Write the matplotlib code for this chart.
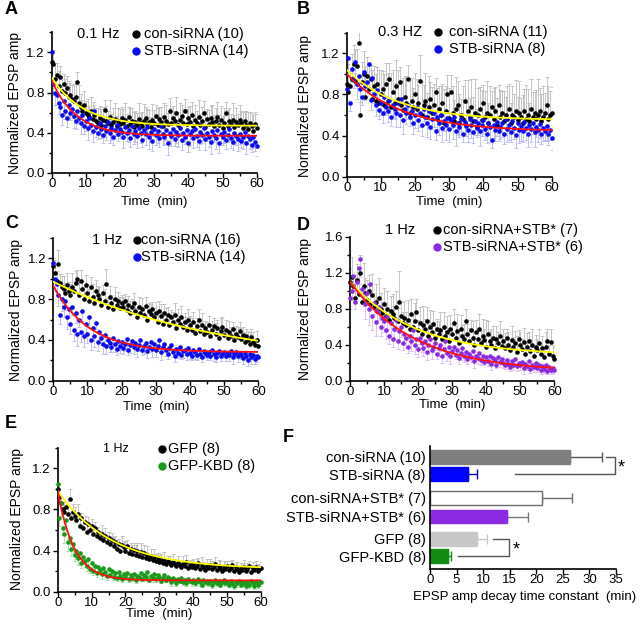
import numpy as np
import matplotlib
matplotlib.use('Agg')
from matplotlib import pyplot as plt
from matplotlib.lines import Line2D
from matplotlib.ticker import MultipleLocator, AutoMinorLocator

plt.rcParams['font.family'] = ['Liberation Sans', 'DejaVu Sans']

W, H = 640, 625

# ---- data: normalized EPSP amp, one value every 0.5 min (0..60) ----
A_con = [1.10, 1.08, 0.93, 0.97, 0.86, 0.95, 0.82, 0.88, 0.80, 0.84,
         0.76, 0.78, 0.74, 0.72, 0.76, 0.90, 0.70, 0.66, 0.62, 0.68,
         0.60, 0.58, 0.56, 0.62, 0.54, 0.58, 0.52, 0.50, 0.55, 0.48,
         0.53, 0.63, 0.52, 0.50, 0.56, 0.48, 0.51, 0.54, 0.47, 0.52,
         0.49, 0.55, 0.50, 0.53, 0.47, 0.56, 0.49, 0.52, 0.46, 0.51,
         0.48, 0.54, 0.50, 0.47, 0.52, 0.55, 0.49, 0.51, 0.46, 0.53,
         0.50, 0.57, 0.48, 0.54, 0.51, 0.47, 0.56, 0.52, 0.49, 0.62,
         0.50, 0.55, 0.52, 0.60, 0.48, 0.53, 0.57, 0.50, 0.62, 0.49,
         0.55, 0.51, 0.58, 0.47, 0.53, 0.50, 0.56, 0.48, 0.52, 0.60,
         0.46, 0.54, 0.49, 0.55, 0.51, 0.47, 0.52, 0.56, 0.48, 0.53,
         0.45, 0.50, 0.60, 0.47, 0.52, 0.49, 0.53, 0.46, 0.51, 0.48,
         0.53, 0.50, 0.45, 0.52, 0.48, 0.44, 0.50, 0.47, 0.42, 0.49,
         0.45]
A_con_err = [0.10, 0.14, 0.16, 0.12, 0.15, 0.11, 0.14, 0.10, 0.13, 0.12,
             0.15, 0.11, 0.13, 0.16, 0.12, 0.10, 0.17, 0.13, 0.11, 0.14,
             0.12, 0.16, 0.11, 0.14, 0.17, 0.10, 0.13, 0.15, 0.12, 0.16,
             0.13, 0.10, 0.15, 0.12, 0.17, 0.11, 0.14, 0.16, 0.10, 0.13,
             0.15, 0.11, 0.14, 0.17, 0.12, 0.10, 0.16, 0.13, 0.15, 0.11,
             0.12, 0.16, 0.10, 0.14, 0.17, 0.11, 0.15, 0.12, 0.10, 0.16,
             0.13, 0.11, 0.17, 0.12, 0.15, 0.10, 0.14, 0.16, 0.11, 0.13,
             0.15, 0.12, 0.10, 0.16, 0.13, 0.17, 0.11, 0.14, 0.12, 0.15,
             0.11, 0.16, 0.13, 0.10, 0.15, 0.12, 0.17, 0.11, 0.14, 0.12,
             0.16, 0.10, 0.14, 0.12, 0.17, 0.11, 0.13, 0.15, 0.10, 0.14,
             0.12, 0.15, 0.11, 0.16, 0.13, 0.10, 0.17, 0.12, 0.14, 0.11,
             0.15, 0.12, 0.16, 0.10, 0.14, 0.17, 0.11, 0.13, 0.16, 0.12,
             0.14]
A_stb = [1.20, 0.88, 0.80, 0.78, 0.70, 0.66, 0.58, 0.72, 0.62, 0.55,
         0.68, 0.60, 0.64, 0.57, 0.52, 0.62, 0.55, 0.50, 0.58, 0.47,
         0.52, 0.45, 0.55, 0.48, 0.42, 0.62, 0.46, 0.40, 0.50, 0.44,
         0.38, 0.47, 0.42, 0.51, 0.40, 0.45, 0.36, 0.43, 0.48, 0.39,
         0.44, 0.41, 0.36, 0.46, 0.40, 0.43, 0.35, 0.47, 0.39, 0.42,
         0.37, 0.45, 0.40, 0.33, 0.43, 0.39, 0.46, 0.36, 0.41, 0.32,
         0.44, 0.38, 0.42, 0.35, 0.47, 0.39, 0.36, 0.43, 0.30, 0.40,
         0.37, 0.44, 0.34, 0.41, 0.38, 0.45, 0.33, 0.40, 0.36, 0.43,
         0.30, 0.39, 0.42, 0.35, 0.44, 0.37, 0.32, 0.41, 0.38, 0.45,
         0.34, 0.40, 0.36, 0.31, 0.42, 0.38, 0.35, 0.43, 0.30, 0.39,
         0.36, 0.41, 0.33, 0.38, 0.44, 0.35, 0.31, 0.40, 0.37, 0.34,
         0.39, 0.32, 0.36, 0.41, 0.30, 0.37, 0.34, 0.28, 0.36, 0.31,
         0.27]
A_stb_err = [0.08, 0.10, 0.12, 0.09, 0.11, 0.07, 0.10, 0.12, 0.08, 0.09,
             0.11, 0.07, 0.09, 0.12, 0.08, 0.10, 0.06, 0.11, 0.09, 0.08,
             0.10, 0.12, 0.07, 0.09, 0.11, 0.08, 0.10, 0.06, 0.12, 0.09,
             0.08, 0.11, 0.09, 0.07, 0.10, 0.12, 0.08, 0.09, 0.11, 0.07,
             0.09, 0.07, 0.11, 0.10, 0.08, 0.12, 0.09, 0.07, 0.10, 0.11,
             0.12, 0.08, 0.10, 0.07, 0.09, 0.11, 0.08, 0.12, 0.09, 0.10,
             0.07, 0.10, 0.12, 0.09, 0.08, 0.11, 0.07, 0.10, 0.12, 0.08,
             0.10, 0.09, 0.07, 0.11, 0.12, 0.08, 0.10, 0.09, 0.07, 0.11,
             0.09, 0.12, 0.08, 0.10, 0.07, 0.11, 0.09, 0.12, 0.08, 0.10,
             0.11, 0.08, 0.10, 0.12, 0.09, 0.07, 0.11, 0.08, 0.10, 0.09,
             0.08, 0.11, 0.09, 0.07, 0.12, 0.10, 0.08, 0.11, 0.09, 0.12,
             0.10, 0.07, 0.12, 0.09, 0.11, 0.08, 0.10, 0.07, 0.11, 0.09,
             0.10]

B_con = [0.90, 0.82, 0.88, 0.95, 1.10, 0.93, 1.08, 1.30, 0.60, 0.92,
         1.00, 0.78, 0.98, 0.85, 0.95, 0.76, 0.88, 0.74, 0.90, 0.72,
         0.80, 0.85, 0.70, 0.90, 0.74, 0.95, 0.68, 0.82, 0.72, 0.88,
         0.76, 0.92, 0.70, 0.65, 0.78, 0.72, 0.95, 0.62, 0.74, 0.68,
         0.80, 0.66, 0.72, 0.93, 0.60, 0.70, 0.74, 0.58, 0.68, 0.76,
         0.62, 0.70, 0.82, 0.56, 0.66, 0.60, 0.72, 0.52, 0.64, 0.80,
         0.57, 0.82, 0.62, 0.54, 0.66, 0.70, 0.52, 0.60, 0.56, 0.74,
         0.50, 0.64, 0.58, 0.68, 0.54, 0.62, 0.48, 0.60, 0.66, 0.55,
         0.72, 0.58, 0.62, 0.52, 0.60, 0.68, 0.56, 0.64, 0.50, 0.70,
         0.58, 0.62, 0.54, 0.60, 0.56, 0.66, 0.52, 0.60, 0.58, 0.64,
         0.55, 0.62, 0.58, 0.52, 0.64, 0.56, 0.60, 0.54, 0.66, 0.58,
         0.62, 0.56, 0.60, 0.64, 0.54, 0.58, 0.62, 0.70, 0.56, 0.60,
         0.62]
B_con_err = [0.20, 0.28, 0.15, 0.24, 0.18, 0.30, 0.16, 0.12, 0.26, 0.20,
             0.22, 0.30, 0.18, 0.25, 0.14, 0.28, 0.20, 0.26, 0.17, 0.32,
             0.24, 0.18, 0.30, 0.21, 0.27, 0.16, 0.33, 0.22, 0.19, 0.26,
             0.28, 0.15, 0.24, 0.31, 0.20, 0.26, 0.14, 0.34, 0.22, 0.18,
             0.21, 0.29, 0.17, 0.25, 0.32, 0.19, 0.27, 0.23, 0.30, 0.16,
             0.25, 0.20, 0.14, 0.30, 0.22, 0.28, 0.18, 0.33, 0.24, 0.19,
             0.29, 0.17, 0.26, 0.21, 0.31, 0.23, 0.28, 0.16, 0.32, 0.20,
             0.22, 0.30, 0.19, 0.27, 0.24, 0.33, 0.18, 0.26, 0.21, 0.29,
             0.17, 0.25, 0.31, 0.20, 0.28, 0.15, 0.30, 0.23, 0.27, 0.19,
             0.26, 0.21, 0.29, 0.18, 0.32, 0.24, 0.20, 0.28, 0.22, 0.30,
             0.23, 0.31, 0.19, 0.27, 0.21, 0.33, 0.25, 0.18, 0.29, 0.24,
             0.20, 0.28, 0.35, 0.22, 0.26, 0.30, 0.19, 0.27, 0.32, 0.23,
             0.25]
B_stb = [0.85, 1.15, 0.72, 1.05, 0.95, 1.12, 0.90, 0.98, 0.85, 0.78,
         1.02, 0.88, 0.92, 1.10, 0.75, 0.96, 0.80, 0.70, 0.84, 0.65,
         0.72, 0.62, 0.78, 0.68, 0.64, 0.75, 0.58, 0.70, 0.66, 0.62,
         0.72, 0.60, 0.76, 0.55, 0.66, 0.62, 0.70, 0.58, 0.64, 0.52,
         0.60, 0.68, 0.55, 0.62, 0.50, 0.66, 0.58, 0.52, 0.64, 0.48,
         0.56, 0.62, 0.44, 0.58, 0.52, 0.60, 0.47, 0.54, 0.50, 0.57,
         0.46, 0.55, 0.50, 0.58, 0.44, 0.52, 0.48, 0.56, 0.42, 0.53,
         0.49, 0.45, 0.56, 0.50, 0.43, 0.54, 0.47, 0.52, 0.44, 0.50,
         0.55, 0.46, 0.42, 0.52, 0.48, 0.36, 0.50, 0.45, 0.53, 0.44,
         0.48, 0.52, 0.42, 0.56, 0.46, 0.50, 0.43, 0.54, 0.47, 0.41,
         0.52, 0.45, 0.49, 0.44, 0.53, 0.47, 0.42, 0.50, 0.46, 0.52,
         0.43, 0.48, 0.45, 0.51, 0.42, 0.47, 0.44, 0.49, 0.42, 0.45,
         0.38]
B_stb_err = [0.10, 0.12, 0.08, 0.13, 0.09, 0.11, 0.14, 0.10, 0.12, 0.08,
             0.11, 0.13, 0.09, 0.12, 0.10, 0.14, 0.08, 0.11, 0.13, 0.09,
             0.12, 0.10, 0.14, 0.08, 0.11, 0.13, 0.09, 0.12, 0.10, 0.14,
             0.09, 0.12, 0.10, 0.13, 0.08, 0.11, 0.14, 0.09, 0.12, 0.10,
             0.13, 0.09, 0.11, 0.14, 0.10, 0.12, 0.08, 0.13, 0.09, 0.11,
             0.10, 0.14, 0.08, 0.12, 0.11, 0.09, 0.13, 0.10, 0.14, 0.12,
             0.12, 0.08, 0.13, 0.10, 0.14, 0.11, 0.09, 0.12, 0.08, 0.13,
             0.09, 0.11, 0.14, 0.12, 0.10, 0.13, 0.08, 0.11, 0.14, 0.10,
             0.13, 0.10, 0.09, 0.11, 0.14, 0.08, 0.12, 0.10, 0.13, 0.09,
             0.11, 0.13, 0.10, 0.08, 0.12, 0.14, 0.09, 0.11, 0.10, 0.13,
             0.08, 0.12, 0.14, 0.10, 0.09, 0.11, 0.13, 0.08, 0.12, 0.10,
             0.14, 0.09, 0.11, 0.13, 0.10, 0.12, 0.08, 0.14, 0.11, 0.09,
             0.12]

C_con = [1.12, 1.06, 0.98, 1.14, 0.96, 0.92, 0.90, 0.86, 0.94, 0.88,
         0.84, 0.92, 0.88, 0.96, 1.00, 0.84, 0.98, 0.90, 0.80, 0.94,
         0.86, 0.78, 0.92, 0.82, 0.76, 0.88, 0.84, 0.80, 0.74, 0.86,
         0.78, 0.95, 0.72, 0.82, 0.76, 0.70, 0.80, 0.74, 0.78, 0.71,
         0.76, 0.72, 0.78, 0.69, 0.74, 0.66, 0.72, 0.76, 0.68, 0.62,
         0.72, 0.66, 0.70, 0.64, 0.73, 0.60, 0.68, 0.65, 0.70, 0.62,
         0.66, 0.58, 0.68, 0.63, 0.56, 0.66, 0.60, 0.64, 0.55, 0.62,
         0.58, 0.64, 0.52, 0.60, 0.56, 0.62, 0.53, 0.58, 0.50, 0.60,
         0.55, 0.50, 0.58, 0.47, 0.54, 0.60, 0.49, 0.55, 0.46, 0.52,
         0.48, 0.55, 0.44, 0.50, 0.54, 0.46, 0.52, 0.42, 0.49, 0.53,
         0.45, 0.50, 0.42, 0.48, 0.44, 0.51, 0.40, 0.46, 0.43, 0.49,
         0.41, 0.45, 0.38, 0.44, 0.40, 0.36, 0.43, 0.38, 0.35, 0.40,
         0.34]
C_con_err = [0.08, 0.12, 0.10, 0.14, 0.09, 0.11, 0.13, 0.10, 0.12, 0.09,
             0.11, 0.14, 0.10, 0.12, 0.09, 0.13, 0.11, 0.08, 0.12, 0.10,
             0.09, 0.12, 0.10, 0.13, 0.08, 0.11, 0.09, 0.12, 0.10, 0.08,
             0.12, 0.15, 0.09, 0.11, 0.08, 0.10, 0.12, 0.07, 0.09, 0.11,
             0.08, 0.10, 0.07, 0.11, 0.09, 0.12, 0.08, 0.10, 0.07, 0.09,
             0.10, 0.08, 0.11, 0.07, 0.09, 0.12, 0.08, 0.10, 0.07, 0.09,
             0.11, 0.08, 0.10, 0.12, 0.07, 0.09, 0.11, 0.08, 0.10, 0.07,
             0.09, 0.12, 0.08, 0.10, 0.07, 0.11, 0.09, 0.08, 0.12, 0.10,
             0.08, 0.11, 0.09, 0.12, 0.07, 0.10, 0.08, 0.11, 0.09, 0.07,
             0.10, 0.08, 0.12, 0.09, 0.07, 0.11, 0.08, 0.10, 0.12, 0.09,
             0.07, 0.10, 0.08, 0.11, 0.09, 0.07, 0.12, 0.08, 0.10, 0.09,
             0.11, 0.08, 0.10, 0.07, 0.09, 0.12, 0.08, 0.10, 0.07, 0.09,
             0.08]
C_stb = [1.15, 1.00, 0.95, 0.84, 0.64, 0.80, 0.72, 0.78, 0.62, 0.70,
         0.56, 0.72, 0.50, 0.66, 0.46, 0.60, 0.48, 0.68, 0.44, 0.56,
         0.46, 0.62, 0.40, 0.52, 0.44, 0.57, 0.38, 0.48, 0.42, 0.36,
         0.45, 0.34, 0.40, 0.37, 0.33, 0.42, 0.36, 0.31, 0.39, 0.34,
         0.38, 0.32, 0.36, 0.41, 0.30, 0.35, 0.39, 0.33, 0.37, 0.31,
         0.35, 0.40, 0.30, 0.34, 0.37, 0.29, 0.33, 0.38, 0.31, 0.36,
         0.30, 0.34, 0.40, 0.28, 0.33, 0.36, 0.30, 0.26, 0.32, 0.35,
         0.28, 0.24, 0.31, 0.27, 0.33, 0.25, 0.29, 0.30, 0.26, 0.32,
         0.27, 0.24, 0.30, 0.28, 0.25, 0.31, 0.26, 0.23, 0.29, 0.27,
         0.25, 0.28, 0.24, 0.30, 0.26, 0.23, 0.27, 0.29, 0.24, 0.26,
         0.28, 0.24, 0.27, 0.25, 0.29, 0.23, 0.26, 0.28, 0.24, 0.27,
         0.25, 0.22, 0.27, 0.24, 0.20, 0.26, 0.23, 0.25, 0.21, 0.24,
         0.23]
C_stb_err = [0.10, 0.12, 0.09, 0.11, 0.08, 0.12, 0.10, 0.09, 0.11, 0.08,
             0.10, 0.08, 0.11, 0.09, 0.12, 0.07, 0.10, 0.09, 0.11, 0.08,
             0.09, 0.07, 0.10, 0.08, 0.11, 0.06, 0.09, 0.08, 0.07, 0.10,
             0.06, 0.08, 0.07, 0.09, 0.05, 0.07, 0.08, 0.06, 0.09, 0.07,
             0.08, 0.06, 0.07, 0.09, 0.05, 0.08, 0.06, 0.07, 0.05, 0.08,
             0.06, 0.07, 0.05, 0.08, 0.06, 0.07, 0.05, 0.06, 0.08, 0.05,
             0.07, 0.05, 0.06, 0.08, 0.05, 0.07, 0.06, 0.05, 0.07, 0.06,
             0.05, 0.06, 0.07, 0.05, 0.06, 0.04, 0.07, 0.05, 0.06, 0.05,
             0.06, 0.04, 0.05, 0.07, 0.05, 0.06, 0.04, 0.05, 0.06, 0.05,
             0.05, 0.06, 0.04, 0.05, 0.07, 0.05, 0.04, 0.06, 0.05, 0.04,
             0.06, 0.05, 0.04, 0.06, 0.05, 0.07, 0.04, 0.05, 0.06, 0.05,
             0.04, 0.06, 0.05, 0.04, 0.06, 0.05, 0.07, 0.04, 0.05, 0.06,
             0.05]

D_con = [1.10, 1.15, 1.05, 0.92, 1.12, 0.96, 1.20, 0.88, 1.05, 0.98,
         0.90, 1.00, 0.85, 0.95, 0.82, 0.88, 0.78, 0.92, 0.80, 0.75,
         0.85, 0.72, 0.80, 0.68, 0.78, 0.74, 0.70, 0.82, 0.66, 0.88,
         0.72, 0.64, 0.70, 0.62, 0.68, 0.58, 0.74, 0.60, 0.66, 0.76,
         0.56, 0.64, 0.52, 0.62, 0.58, 0.66, 0.50, 0.60, 0.54, 0.63,
         0.48, 0.58, 0.52, 0.56, 0.46, 0.60, 0.50, 0.54, 0.44, 0.58,
         0.52, 0.64, 0.48, 0.55, 0.42, 0.58, 0.50, 0.46, 0.66, 0.52,
         0.44, 0.56, 0.48, 0.40, 0.54, 0.46, 0.58, 0.42, 0.50, 0.45,
         0.38, 0.52, 0.44, 0.40, 0.48, 0.36, 0.46, 0.42, 0.50, 0.39,
         0.44, 0.36, 0.47, 0.40, 0.34, 0.45, 0.38, 0.42, 0.32, 0.46,
         0.40, 0.35, 0.43, 0.30, 0.38, 0.44, 0.33, 0.40, 0.28, 0.37,
         0.34, 0.42, 0.30, 0.36, 0.26, 0.38, 0.44, 0.30, 0.43, 0.28,
         0.24]
D_con_err = [0.15, 0.22, 0.12, 0.25, 0.18, 0.30, 0.20, 0.14, 0.26, 0.16,
             0.22, 0.18, 0.12, 0.24, 0.16, 0.20, 0.14, 0.22, 0.17, 0.12,
             0.18, 0.14, 0.20, 0.12, 0.16, 0.22, 0.13, 0.18, 0.15, 0.34,
             0.16, 0.12, 0.19, 0.14, 0.22, 0.11, 0.17, 0.13, 0.20, 0.15,
             0.12, 0.18, 0.14, 0.21, 0.11, 0.16, 0.13, 0.19, 0.10, 0.15,
             0.17, 0.11, 0.14, 0.20, 0.12, 0.16, 0.10, 0.18, 0.13, 0.15,
             0.11, 0.16, 0.13, 0.19, 0.10, 0.15, 0.12, 0.17, 0.14, 0.11,
             0.15, 0.12, 0.18, 0.10, 0.14, 0.11, 0.16, 0.13, 0.19, 0.12,
             0.30, 0.14, 0.11, 0.17, 0.13, 0.10, 0.15, 0.12, 0.16, 0.11,
             0.13, 0.17, 0.10, 0.14, 0.12, 0.16, 0.11, 0.13, 0.18, 0.10,
             0.14, 0.11, 0.16, 0.12, 0.15, 0.10, 0.13, 0.17, 0.11, 0.14,
             0.12, 0.15, 0.10, 0.14, 0.11, 0.16, 0.13, 0.10, 0.15, 0.12,
             0.13]
D_stb = [0.92, 1.00, 1.16, 0.88, 1.10, 1.25, 1.35, 1.02, 0.95, 0.85,
         0.98, 0.80, 1.08, 0.72, 0.86, 0.65, 0.78, 0.82, 0.60, 0.70,
         0.66, 0.56, 0.72, 0.50, 0.64, 0.46, 0.58, 0.68, 0.44, 0.55,
         0.60, 0.42, 0.52, 0.48, 0.38, 0.50, 0.44, 0.56, 0.40, 0.46,
         0.35, 0.48, 0.42, 0.36, 0.44, 0.32, 0.40, 0.46, 0.34, 0.38,
         0.42, 0.30, 0.36, 0.40, 0.28, 0.35, 0.44, 0.31, 0.37, 0.27,
         0.33, 0.38, 0.29, 0.34, 0.25, 0.31, 0.36, 0.27, 0.32, 0.24,
         0.30, 0.26, 0.33, 0.22, 0.28, 0.25, 0.31, 0.23, 0.27, 0.21,
         0.26, 0.22, 0.28, 0.19, 0.25, 0.23, 0.18, 0.26, 0.21, 0.24,
         0.20, 0.17, 0.23, 0.19, 0.15, 0.22, 0.18, 0.24, 0.16, 0.20,
         0.17, 0.21, 0.14, 0.19, 0.16, 0.22, 0.13, 0.18, 0.15, 0.20,
         0.14, 0.17, 0.12, 0.16, 0.13, 0.18, 0.11, 0.15, 0.12, 0.14,
         0.12]
D_stb_err = [0.12, 0.10, 0.15, 0.08, 0.12, 0.18, 0.20, 0.14, 0.12, 0.16,
             0.14, 0.18, 0.10, 0.16, 0.12, 0.15, 0.11, 0.14, 0.10, 0.13,
             0.12, 0.10, 0.14, 0.09, 0.12, 0.08, 0.11, 0.13, 0.09, 0.10,
             0.11, 0.08, 0.10, 0.12, 0.07, 0.09, 0.11, 0.08, 0.10, 0.07,
             0.09, 0.07, 0.10, 0.08, 0.06, 0.09, 0.07, 0.08, 0.10, 0.06,
             0.08, 0.06, 0.09, 0.07, 0.08, 0.05, 0.07, 0.09, 0.06, 0.08,
             0.06, 0.08, 0.05, 0.07, 0.06, 0.08, 0.05, 0.06, 0.07, 0.05,
             0.07, 0.05, 0.06, 0.08, 0.05, 0.06, 0.07, 0.05, 0.06, 0.04,
             0.05, 0.06, 0.04, 0.07, 0.05, 0.06, 0.04, 0.05, 0.06, 0.05,
             0.06, 0.04, 0.05, 0.06, 0.04, 0.05, 0.06, 0.04, 0.05, 0.04,
             0.05, 0.04, 0.06, 0.05, 0.04, 0.05, 0.04, 0.06, 0.05, 0.04,
             0.04, 0.05, 0.04, 0.06, 0.04, 0.05, 0.04, 0.05, 0.04, 0.05,
             0.04]

E_con = [1.00, 0.92, 0.86, 0.80, 0.78, 0.82, 0.76, 0.90, 0.72, 0.78,
         0.74, 0.70, 0.76, 0.64, 0.72, 0.62, 0.68, 0.58, 0.66, 0.60,
         0.64, 0.56, 0.62, 0.54, 0.58, 0.52, 0.56, 0.50, 0.54, 0.48,
         0.52, 0.46, 0.50, 0.44, 0.48, 0.42, 0.46, 0.40, 0.45, 0.43,
         0.40, 0.44, 0.38, 0.42, 0.37, 0.41, 0.36, 0.40, 0.35, 0.39,
         0.34, 0.38, 0.33, 0.36, 0.32, 0.35, 0.31, 0.34, 0.30, 0.33,
         0.29, 0.32, 0.28, 0.31, 0.27, 0.30, 0.28, 0.26, 0.29, 0.27,
         0.25, 0.28, 0.26, 0.24, 0.27, 0.25, 0.29, 0.23, 0.26, 0.24,
         0.27, 0.23, 0.25, 0.28, 0.22, 0.26, 0.24, 0.21, 0.25, 0.23,
         0.26, 0.22, 0.24, 0.27, 0.21, 0.25, 0.23, 0.20, 0.24, 0.22,
         0.25, 0.21, 0.23, 0.26, 0.20, 0.24, 0.22, 0.19, 0.23, 0.21,
         0.24, 0.20, 0.22, 0.25, 0.19, 0.23, 0.21, 0.24, 0.20, 0.22,
         0.23]
E_con_err = [0.06, 0.08, 0.05, 0.07, 0.09, 0.06, 0.08, 0.10, 0.06, 0.07,
             0.08, 0.06, 0.09, 0.07, 0.05, 0.08, 0.06, 0.09, 0.07, 0.06,
             0.07, 0.09, 0.06, 0.08, 0.05, 0.07, 0.09, 0.06, 0.08, 0.07,
             0.06, 0.08, 0.07, 0.09, 0.06, 0.08, 0.05, 0.07, 0.09, 0.06,
             0.08, 0.06, 0.07, 0.05, 0.08, 0.06, 0.09, 0.07, 0.06, 0.08,
             0.05, 0.07, 0.06, 0.08, 0.05, 0.07, 0.06, 0.08, 0.07, 0.05,
             0.07, 0.05, 0.06, 0.08, 0.06, 0.05, 0.07, 0.06, 0.08, 0.05,
             0.06, 0.07, 0.05, 0.06, 0.08, 0.05, 0.07, 0.06, 0.05, 0.07,
             0.05, 0.06, 0.07, 0.05, 0.06, 0.08, 0.05, 0.06, 0.07, 0.05,
             0.06, 0.08, 0.05, 0.07, 0.05, 0.06, 0.07, 0.05, 0.06, 0.08,
             0.05, 0.06, 0.07, 0.05, 0.06, 0.05, 0.07, 0.06, 0.05, 0.06,
             0.07, 0.05, 0.06, 0.05, 0.07, 0.06, 0.05, 0.06, 0.07, 0.05,
             0.06]
E_kbd = [1.05, 0.72, 0.86, 0.62, 0.56, 0.70, 0.48, 0.52, 0.42, 0.46,
         0.36, 0.40, 0.33, 0.38, 0.28, 0.34, 0.30, 0.25, 0.32, 0.22,
         0.28, 0.20, 0.25, 0.18, 0.24, 0.21, 0.17, 0.23, 0.19, 0.15,
         0.22, 0.16, 0.20, 0.14, 0.18, 0.13, 0.19, 0.15, 0.12, 0.17,
         0.14, 0.18, 0.12, 0.16, 0.13, 0.17, 0.11, 0.15, 0.14, 0.18,
         0.12, 0.16, 0.14, 0.19, 0.11, 0.15, 0.13, 0.17, 0.12, 0.16,
         0.14, 0.10, 0.13, 0.16, 0.11, 0.14, 0.12, 0.09, 0.13, 0.11,
         0.08, 0.12, 0.10, 0.13, 0.09, 0.11, 0.08, 0.12, 0.10, 0.09,
         0.11, 0.08, 0.10, 0.12, 0.09, 0.07, 0.11, 0.09, 0.10, 0.08,
         0.10, 0.07, 0.09, 0.11, 0.08, 0.10, 0.07, 0.09, 0.11, 0.08,
         0.09, 0.07, 0.10, 0.08, 0.06, 0.09, 0.08, 0.10, 0.07, 0.09,
         0.08, 0.06, 0.09, 0.07, 0.10, 0.08, 0.06, 0.09, 0.07, 0.08,
         0.09]
E_kbd_err = [0.10, 0.08, 0.12, 0.07, 0.09, 0.11, 0.08, 0.10, 0.07, 0.09,
             0.06, 0.08, 0.07, 0.06, 0.05, 0.07, 0.06, 0.05, 0.07, 0.04,
             0.05, 0.04, 0.06, 0.04, 0.05, 0.03, 0.05, 0.04, 0.03, 0.04,
             0.04, 0.03, 0.04, 0.03, 0.04, 0.03, 0.05, 0.03, 0.03, 0.04,
             0.03, 0.04, 0.03, 0.02, 0.03, 0.04, 0.03, 0.02, 0.03, 0.04,
             0.02, 0.03, 0.04, 0.03, 0.02, 0.03, 0.04, 0.02, 0.03, 0.03,
             0.03, 0.02, 0.03, 0.04, 0.02, 0.03, 0.02, 0.03, 0.04, 0.02,
             0.02, 0.03, 0.02, 0.03, 0.02, 0.04, 0.02, 0.03, 0.02, 0.03,
             0.03, 0.02, 0.03, 0.02, 0.03, 0.02, 0.04, 0.02, 0.03, 0.02,
             0.02, 0.03, 0.02, 0.03, 0.02, 0.03, 0.02, 0.02, 0.03, 0.02,
             0.03, 0.02, 0.03, 0.02, 0.03, 0.02, 0.03, 0.02, 0.02, 0.03,
             0.02, 0.03, 0.02, 0.03, 0.02, 0.02, 0.03, 0.02, 0.03, 0.02,
             0.03]

# exponential fits: (plateau, amplitude, tau in min)
A_con_fit = [0.47, 0.48, 9.0]
A_stb_fit = [0.37, 0.55, 7.3]
B_con_fit = [0.55, 0.49, 15.0]
B_stb_fit = [0.44, 0.56, 16.0]
C_con_fit = [0.15, 0.82, 49.0]
C_stb_fit = [0.28, 0.65, 10.5]
D_con_fit = [0.28, 0.82, 19.2]
D_stb_fit = [0.10, 1.00, 19.0]
E_con_fit = [0.22, 0.76, 16.0]
E_stb_fit = [0.11, 0.87, 4.8]

# panel F: decay time constants
F_labels = ['con-siRNA (10)', 'STB-siRNA (8)', 'con-siRNA+STB* (7)',
            'STB-siRNA+STB* (6)', 'GFP (8)', 'GFP-KBD (8)']
F_tau = [26.4, 7.1, 21.0, 14.4, 8.8, 3.4]
F_err = [5.9, 1.7, 5.8, 4.1, 2.0, 0.6]


def rect(left, right, y0, ppu, ymax):
    return [left / W, 1 - y0 / H, (right - left) / W, ymax * ppu / H]


def ftext(x, y, s, **kw):
    fig.text(x / W, 1 - y / H, s, **kw)


def fdot(x, y, color):
    fig.add_artist(Line2D([x / W], [1 - y / H], marker='o', ms=5, color=color,
                          ls='none', transform=fig.transFigure))


def style_ax(ax, ymax, ystep):
    for s in ['top', 'right']:
        ax.spines[s].set_visible(False)
    for s in ['left', 'bottom']:
        ax.spines[s].set_linewidth(1.2)
    ax.set_xlim(0, 60)
    ax.set_ylim(0, ymax)
    ax.xaxis.set_major_locator(MultipleLocator(10))
    ax.xaxis.set_minor_locator(AutoMinorLocator(2))
    ax.yaxis.set_major_locator(MultipleLocator(ystep))
    ax.yaxis.set_minor_locator(AutoMinorLocator(2))
    ax.yaxis.set_major_formatter(plt.FormatStrFormatter('%.1f'))
    ax.tick_params(which='major', length=3.5, width=1.0, labelsize=9.5)
    ax.tick_params(which='minor', length=2.2, width=1.0)
    ax.tick_params(axis='x', pad=0.3)
    ax.tick_params(axis='y', pad=1.5)


def draw_panel(ax, con, con_err, stb, stb_err, col, ecol, fit_c, fit_s):
    t = 0.5 * np.arange(len(con))
    con = np.array(con)
    stb = np.array(stb)
    z = np.zeros(len(con))
    ax.errorbar(t, con, yerr=[z, np.array(con_err)], fmt='none', ecolor='#bdbdbd',
                elinewidth=0.6, capsize=1.3, capthick=0.6, zorder=1)
    ax.errorbar(t, stb, yerr=[np.array(stb_err), z], fmt='none', ecolor=ecol,
                elinewidth=0.6, capsize=1.3, capthick=0.6, zorder=1)
    ax.plot(t, con, 'o', color='black', ms=3.3, mew=0, zorder=3, clip_on=False)
    ax.plot(t, stb, 'o', color=col, ms=3.3, mew=0, zorder=3, clip_on=False)
    tf = np.linspace(0, 60, 241)
    ax.plot(tf, fit_c[0] + fit_c[1] * np.exp(-tf / fit_c[2]), color='#ffff00',
            lw=1.3, zorder=4)
    ax.plot(tf, fit_s[0] + fit_s[1] * np.exp(-tf / fit_s[2]), color='#ff1010',
            lw=1.3, zorder=4)


fig = plt.figure(figsize=(6.4, 6.25), dpi=100)

blue = '#0a0af0'
purple = '#8a2be2'
green = '#1a991a'

axA = fig.add_axes(rect(51.7, 256.7, 173, 100.6, 1.4))
draw_panel(axA, A_con, A_con_err, A_stb, A_stb_err, blue, '#b8b8f0', A_con_fit, A_stb_fit)
style_ax(axA, 1.4, 0.4)

axB = fig.add_axes(rect(346.7, 551.7, 176.7, 102.8, 1.4))
draw_panel(axB, B_con, B_con_err, B_stb, B_stb_err, blue, '#b8b8f0', B_con_fit, B_stb_fit)
style_ax(axB, 1.4, 0.4)

axC = fig.add_axes(rect(53.3, 258.3, 380.7, 102.0, 1.4))
draw_panel(axC, C_con, C_con_err, C_stb, C_stb_err, blue, '#b8b8f0', C_con_fit, C_stb_fit)
style_ax(axC, 1.4, 0.4)

axD = fig.add_axes(rect(350, 554.3, 380.7, 90.0, 1.6))
draw_panel(axD, D_con, D_con_err, D_stb, D_stb_err, purple, '#dcb8f4', D_con_fit, D_stb_fit)
style_ax(axD, 1.6, 0.4)

axE = fig.add_axes(rect(57.7, 261, 591.7, 102.8, 1.4))
draw_panel(axE, E_con, E_con_err, E_kbd, E_kbd_err, green, '#a8d8a8', E_con_fit, E_stb_fit)
style_ax(axE, 1.4, 0.4)

# panel F
axF = fig.add_axes([430 / W, 1 - 569 / H, 186 / W, 123.3 / H])
pos = [0, 1, 2.35, 3.45, 4.75, 5.75]
fill = ['#7f7f7f', '#0000ff', 'white', '#8a2be2', '#c8c8c8', '#138a13']
edge = ['#7f7f7f', '#0000ff', '#6e6e6e', '#8a2be2', '#c8c8c8', '#138a13']
ecols = ['#555555', '#0000cc', '#6e6e6e', '#777777', '#c8c8c8', '#138a13']
axF.barh(pos, F_tau, height=0.81, color=fill, edgecolor=edge, linewidth=1.0, zorder=2)
for v, p, e, c in zip(F_tau, pos, F_err, ecols):
    axF.errorbar([v], [p], xerr=[[0], [e]], fmt='none', ecolor=c, elinewidth=1.0,
                 capsize=3.5, capthick=1.0, zorder=1)
axF.set_xlim(0, 35)
axF.set_ylim(6.49, -0.65)
axF.set_yticks(pos)
axF.set_yticklabels(F_labels, fontsize=10.5)
axF.xaxis.set_major_locator(MultipleLocator(5))
axF.tick_params(axis='x', length=3.5, width=1.0, labelsize=9.5, pad=0.3)
axF.tick_params(axis='y', length=0, pad=3)
for s in ['top', 'right']:
    axF.spines[s].set_visible(False)
for s in ['left', 'bottom']:
    axF.spines[s].set_linewidth(1.2)
bk = dict(color='#555555', lw=1.0, clip_on=False)
axF.plot([33.1, 34.8, 34.8, 16.0], [0, 0, 1, 1], **bk)
axF.plot([11.8, 14.9, 14.9, 5.3], [4.75, 4.75, 5.75, 5.75], **bk)
axF.text(35.9, 0.62, '*', fontsize=13, ha='center', va='center', clip_on=False)
axF.text(16.2, 5.37, '*', fontsize=13, ha='center', va='center', clip_on=False)

# axis labels
ylab = dict(rotation=90, ha='center', va='center', fontsize=10)
xlab = dict(ha='center', va='center', fontsize=9.5)
ftext(15, 103, 'Normalized EPSP amp', **ylab)
ftext(305, 106, 'Normalized EPSP amp', **ylab)
ftext(16, 310, 'Normalized EPSP amp', **ylab)
ftext(305, 309, 'Normalized EPSP amp', **ylab)
ftext(17, 519, 'Normalized EPSP amp', **ylab)
ftext(154, 201.7, 'Time  (min)', **xlab)
ftext(449, 201.7, 'Time  (min)', **xlab)
ftext(156, 406.7, 'Time  (min)', **xlab)
ftext(452, 405, 'Time  (min)', **xlab)
ftext(159, 614, 'Time  (min)', **xlab)
ftext(525, 596.7, 'EPSP amp decay time constant  (min)', **xlab)

# panel letters
let = dict(fontsize=13, fontweight='bold', ha='left', va='center')
ftext(5, 9, 'A', **let)
ftext(297, 10, 'B', **let)
ftext(5, 223, 'C', **let)
ftext(297, 225, 'D', **let)
ftext(5, 423, 'E', **let)
ftext(283, 437, 'F', **let)

# in-panel legends
leg = dict(fontsize=10.5, ha='left', va='center')
ftext(77, 34, '0.1 Hz', **leg)
fdot(136, 34, 'black'); ftext(144, 34, 'con-siRNA (10)', **leg)
fdot(136, 51, blue); ftext(144, 51, 'STB-siRNA (14)', **leg)

ftext(378, 32, '0.3 HZ', **leg)
fdot(438, 32, 'black'); ftext(449, 32, 'con-siRNA (11)', **leg)
fdot(438, 49, blue); ftext(449, 49, 'STB-siRNA (8)', **leg)

ftext(92, 240, '1 Hz', **leg)
fdot(137, 240, 'black'); ftext(141, 240, 'con-siRNA (16)', **leg)
fdot(137, 257, blue); ftext(141, 257, 'STB-siRNA (14)', **leg)

ftext(385, 230, '1 Hz', **leg)
fdot(437, 230, 'black'); ftext(443, 230, 'con-siRNA+STB* (7)', **leg)
fdot(437, 247, purple); ftext(443, 247, 'STB-siRNA+STB* (6)', **leg)

ftext(103, 449, '1 Hz', fontsize=9, ha='left', va='center')
fdot(162, 449, 'black'); ftext(168, 449, 'GFP (8)', **leg)
fdot(162, 466, green); ftext(168, 466, 'GFP-KBD (8)', **leg)

fig.savefig('out.png', dpi=100)
